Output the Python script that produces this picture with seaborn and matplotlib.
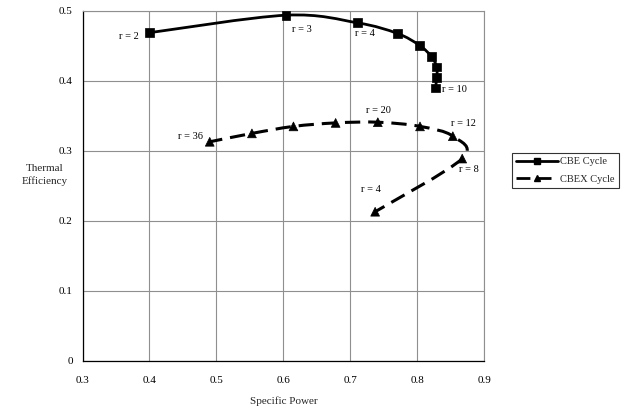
import numpy as np
import pandas as pd
import matplotlib
matplotlib.use("Agg")
import matplotlib.pyplot as plt
from matplotlib.path import Path
from matplotlib.patches import PathPatch
from matplotlib.lines import Line2D
import seaborn as sns

# ---- data ----
cbe_r = [2, 3, 4, 5, 6, 7, 8, 9, 10]
cbe_power = [0.400, 0.604, 0.711, 0.770, 0.803, 0.821, 0.829, 0.829, 0.827]
cbe_eff = [0.469, 0.494, 0.483, 0.468, 0.451, 0.435, 0.420, 0.405, 0.390]

cbex_r = [4, 8, 12, 16, 20, 24, 28, 32, 36]
cbex_power = [0.737, 0.867, 0.853, 0.804, 0.741, 0.678, 0.615, 0.553, 0.490]
cbex_eff = [0.213, 0.289, 0.321, 0.335, 0.341, 0.340, 0.335, 0.325, 0.313]

series_names = ["CBE Cycle", "CBEX Cycle"]
x_ticks = [0.3, 0.4, 0.5, 0.6, 0.7, 0.8, 0.9]
y_ticks = [0, 0.1, 0.2, 0.3, 0.4, 0.5]
x_tick_labels = ["0.3", "0.4", "0.5", "0.6", "0.7", "0.8", "0.9"]
y_tick_labels = ["0", "0.1", "0.2", "0.3", "0.4", "0.5"]

# annotations: (text, x, y)
cbe_labels = [("r = 2", 0.369, 0.464), ("r = 3", 0.627, 0.474),
              ("r = 4", 0.722, 0.468), ("r = 10", 0.856, 0.388)]
cbex_labels = [("r = 36", 0.461, 0.321), ("r = 20", 0.742, 0.358),
               ("r = 12", 0.869, 0.339), ("r = 8", 0.877, 0.274),
               ("r = 4", 0.731, 0.245)]

df = pd.concat([
    pd.DataFrame({"power": cbe_power, "eff": cbe_eff, "r": cbe_r, "cycle": series_names[0]}),
    pd.DataFrame({"power": cbex_power, "eff": cbex_eff, "r": cbex_r, "cycle": series_names[1]}),
], ignore_index=True)

sns.set_theme(style="white")
plt.rcParams["font.family"] = ["Liberation Serif", "DejaVu Serif"]

fig = plt.figure(figsize=(6.21, 4.07), dpi=100)
W, H = 621, 407
ax = fig.add_axes([82.5 / W, 1 - 360.7 / H, 401.8 / W, 349.7 / H])


def smooth_path(xs, ys):
    pts = np.column_stack([xs, ys])
    n = len(pts)
    verts = [pts[0]]
    codes = [Path.MOVETO]
    for i in range(n - 1):
        p_prev = pts[i - 1] if i > 0 else pts[i]
        p_next2 = pts[i + 2] if i + 2 < n else pts[i + 1]
        c1 = pts[i] + (pts[i + 1] - p_prev) / 6.0
        c2 = pts[i + 1] - (p_next2 - pts[i]) / 6.0
        verts += [c1, c2, pts[i + 1]]
        codes += [Path.CURVE4] * 3
    return Path(verts, codes)


ax.add_patch(PathPatch(smooth_path(cbe_power, cbe_eff), fill=False,
                       edgecolor="black", lw=2.0, capstyle="butt", zorder=3))
ax.add_patch(PathPatch(smooth_path(cbex_power, cbex_eff), fill=False,
                       edgecolor="black", lw=2.2, linestyle=(1.5, (5, 2.6)),
                       capstyle="butt", zorder=3))

sns.scatterplot(data=df, x="power", y="eff", style="cycle",
                markers={"CBE Cycle": "s", "CBEX Cycle": "^"},
                color="black", edgecolor="black", s=40, linewidth=0.5,
                ax=ax, legend=False, zorder=4)

for txt, x, y in cbe_labels + cbex_labels:
    ax.text(x, y, txt, ha="center", va="center", fontsize=7.5, color="black")

ax.set_xlim(0.3, 0.9)
ax.set_ylim(0, 0.5)
ax.set_xticks(x_ticks)
ax.set_xticklabels(x_tick_labels)
ax.set_yticks(y_ticks)
ax.set_yticklabels(y_tick_labels)
ax.tick_params(axis="both", labelsize=8, colors="black", direction="inout",
               length=6, width=0.8, pad=4)
ax.tick_params(axis="x", direction="out", length=5, pad=6)
ax.grid(True, color="#8f8f8f", lw=0.8)
ax.set_axisbelow(True)
for side in ["left", "bottom"]:
    ax.spines[side].set_color("black")
    ax.spines[side].set_linewidth(0.9)
for side in ["top", "right"]:
    ax.spines[side].set_color("#8f8f8f")
    ax.spines[side].set_linewidth(0.8)

ax.set_xlabel("Specific Power", fontsize=8)
ax.set_ylabel("Thermal\nEfficiency", fontsize=8, rotation=0,
              ha="center", va="center", linespacing=1.3)
ax.xaxis.set_label_coords((284 - 82.5) / 401.8, (360.7 - 396) / 349.7)
ax.yaxis.set_label_coords((45 - 82.5) / 401.8, (360.7 - 175) / 349.7)

handles = [
    Line2D([], [], color="black", lw=2, marker="s", ms=4.5),
    Line2D([], [], color="black", lw=2, marker="^", ms=5, linestyle=(0, (5, 2.6))),
]
leg = fig.legend(handles, series_names, loc="upper left",
                 bbox_to_anchor=(512 / W, 1 - 153 / H), fontsize=7.5,
                 frameon=True, fancybox=False, edgecolor="black",
                 handlelength=4.0, handletextpad=0.2, borderpad=0.4,
                 labelspacing=0.75, borderaxespad=0)
leg.get_frame().set_linewidth(0.8)

fig.savefig("out.png", dpi=100)
